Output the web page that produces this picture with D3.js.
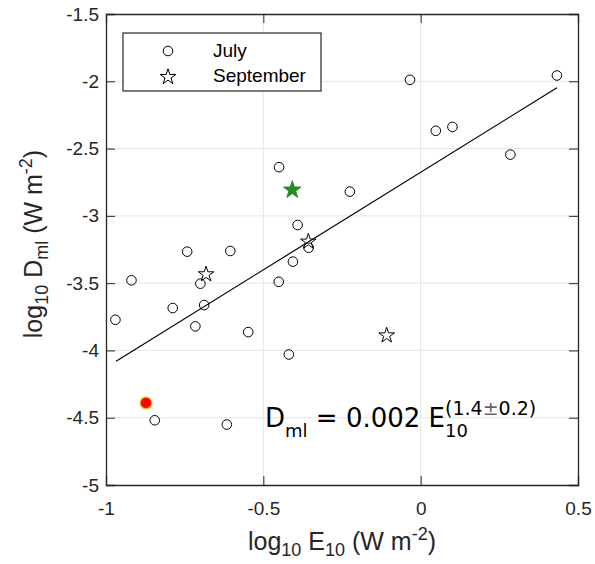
<!DOCTYPE html>
<html>
<head>
<meta charset="utf-8">
<script src="https://cdn.jsdelivr.net/npm/d3@7"></script>
<style>
  body { margin: 0; background: #fff; }
  svg { font-family: "Liberation Sans", Arial, sans-serif; }
</style>
</head>
<body>
<svg id="drawing_region"></svg>
<script>
// July observations: log10 E10, log10 Dml
const julyX = [-0.450, -0.225, -0.391, -0.356, -0.406, -0.742, -0.605, -0.700, -0.919, -0.451,
               -0.788, -0.688, -0.970, -0.716, -0.548, -0.419, -0.845, -0.616, -0.034, 0.048,
               0.101, 0.285, 0.433];
const julyY = [-2.638, -2.820, -3.068, -3.237, -3.340, -3.266, -3.261, -3.504, -3.479, -3.490,
               -3.685, -3.663, -3.772, -3.821, -3.864, -4.030, -4.519, -4.551, -1.989, -2.368,
               -2.339, -2.545, -1.957];
// September observations
const septX = [-0.682, -0.357, -0.108];
const septY = [-3.427, -3.184, -3.881];
// highlighted points
const greenStar = [-0.408, -2.800];
const redDot = [-0.873, -4.390];
// fit line endpoints
const fitX = [-0.968, 0.433];
const fitY = [-4.080, -2.048];

const xTicks = [-1, -0.5, 0, 0.5];
const yTicks = [-5, -4.5, -4, -3.5, -3, -2.5, -2, -1.5];
const legendLabels = ["July", "September"];

const width = 595, height = 564;
const margin = { top: 14, right: 17, bottom: 79, left: 106 };
const innerW = width - margin.left - margin.right;
const innerH = height - margin.top - margin.bottom;

const svg = d3.select('#drawing_region')
    .attr('width', width)
    .attr('height', height);

const chart = svg.append('g')
    .attr('transform', `translate(${margin.left}, ${margin.top})`);

const xscale = d3.scaleLinear().domain([-1, 0.5]).range([0, innerW]);
const yscale = d3.scaleLinear().domain([-5, -1.5]).range([innerH, 0]);

const axisColor = '#262626';
const fmt = d => String(d);   // plain hyphen, like the original

// grid
chart.append('g').selectAll('line')
    .data(xTicks.slice(1, -1))
    .enter().append('line')
    .attr('x1', d => xscale(d)).attr('x2', d => xscale(d))
    .attr('y1', 0).attr('y2', innerH)
    .attr('stroke', '#e6e6e6').attr('stroke-width', 1);
chart.append('g').selectAll('line')
    .data(yTicks.slice(1, -1))
    .enter().append('line')
    .attr('y1', d => yscale(d)).attr('y2', d => yscale(d))
    .attr('x1', 0).attr('x2', innerW)
    .attr('stroke', '#e6e6e6').attr('stroke-width', 1);

// axes with inward ticks
const xaxis = d3.axisBottom(xscale).tickValues(xTicks).tickSize(-9).tickPadding(17).tickFormat(fmt);
const yaxis = d3.axisLeft(yscale).tickValues(yTicks).tickSize(-9).tickPadding(7).tickFormat(fmt);
const xaxisTop = d3.axisTop(xscale).tickValues(xTicks).tickSize(-9).tickFormat('');
const yaxisRight = d3.axisRight(yscale).tickValues(yTicks).tickSize(-9).tickFormat('');

function styleAxis(g) {
    g.selectAll('path').attr('stroke', axisColor).attr('stroke-width', 1.3);
    g.selectAll('line').attr('stroke', axisColor);
    g.selectAll('text').attr('fill', axisColor).attr('font-size', '19px')
        .attr('font-family', '"Liberation Sans", Arial, sans-serif');
}

chart.append('g').attr('transform', `translate(0, ${innerH})`).call(xaxis).call(styleAxis);
chart.append('g').call(yaxis).call(styleAxis);
chart.append('g').call(xaxisTop).call(styleAxis);
chart.append('g').attr('transform', `translate(${innerW}, 0)`).call(yaxisRight).call(styleAxis);

// fit line
chart.append('line')
    .attr('x1', xscale(fitX[0])).attr('y1', yscale(fitY[0]))
    .attr('x2', xscale(fitX[1])).attr('y2', yscale(fitY[1]))
    .attr('stroke', '#000').attr('stroke-width', 1.2);

// July circles
const july = julyX.map((x, i) => ({ x: x, y: julyY[i] }));
chart.append('g').selectAll('circle')
    .data(july)
    .enter().append('circle')
    .attr('cx', d => xscale(d.x))
    .attr('cy', d => yscale(d.y))
    .attr('r', 4.8)
    .attr('fill', 'none')
    .attr('stroke', '#000')
    .attr('stroke-width', 1);

// September stars
const star = d3.symbol().type(d3.symbolStar).size(75);
const sept = septX.map((x, i) => ({ x: x, y: septY[i] }));
chart.append('g').selectAll('path')
    .data(sept)
    .enter().append('path')
    .attr('d', star)
    .attr('transform', d => `translate(${xscale(d.x)}, ${yscale(d.y) + 1})`)
    .attr('fill', 'none')
    .attr('stroke', '#000')
    .attr('stroke-width', 1);

// highlighted
chart.append('path')
    .attr('d', d3.symbol().type(d3.symbolStar).size(95))
    .attr('transform', `translate(${xscale(greenStar[0])}, ${yscale(greenStar[1]) + 1})`)
    .attr('fill', '#228b22')
    .attr('stroke', '#228b22');
chart.append('circle')
    .attr('cx', xscale(redDot[0])).attr('cy', yscale(redDot[1]))
    .attr('r', 5.8)
    .attr('fill', '#ff0000')
    .attr('stroke', '#f5b800')
    .attr('stroke-width', 1.2);

// legend
const legend = chart.append('g').attr('transform', 'translate(17, 19)');
legend.append('rect')
    .attr('width', 198).attr('height', 58)
    .attr('fill', '#fff').attr('stroke', axisColor).attr('stroke-width', 1.2);
legend.append('circle')
    .attr('cx', 45).attr('cy', 18).attr('r', 4.8)
    .attr('fill', 'none').attr('stroke', '#000');
legend.append('path')
    .attr('d', star)
    .attr('transform', 'translate(45, 44)')
    .attr('fill', 'none').attr('stroke', '#000');
legend.selectAll('text.lab')
    .data(legendLabels)
    .enter().append('text')
    .attr('class', 'lab')
    .attr('x', 90)
    .attr('y', (d, i) => 24 + i * 25)
    .attr('font-size', '19px')
    .attr('fill', '#000')
    .text(d => d);

// equation
const eq = chart.append('text')
    .attr('x', 159)
    .attr('y', 413)
    .attr('fill', '#000')
    .attr('font-family', '"DejaVu Sans", sans-serif')
    .attr('font-size', '26px');
eq.append('tspan').text('D');
eq.append('tspan').attr('font-size', '18px').attr('dy', 10).text('ml');
eq.append('tspan').attr('dy', -10).text(' = 0.002 E');
const sub = eq.append('tspan').attr('font-size', '18px').attr('dy', 10).text('10');
const supX = sub.node().getStartPositionOfChar(0).x;
const sup = chart.append('text')
    .attr('x', supX)
    .attr('y', 401)
    .attr('font-family', '"DejaVu Sans", sans-serif')
    .attr('font-size', '19px')
    .attr('fill', '#000');
sup.append('tspan').text('(1.4');
sup.append('tspan').attr('fill', '#666').text('±');
sup.append('tspan').text('0.2)');

// axis labels
const xl = svg.append('text')
    .attr('x', 342)
    .attr('y', 550)
    .attr('text-anchor', 'middle')
    .attr('font-size', '25px')
    .attr('fill', axisColor);
xl.append('tspan').text('log');
xl.append('tspan').attr('font-size', '18px').attr('dy', 6).text('10');
xl.append('tspan').attr('dy', -6).text(' E');
xl.append('tspan').attr('font-size', '18px').attr('dy', 6).text('10');
xl.append('tspan').attr('dy', -6).text(' (W m');
xl.append('tspan').attr('font-size', '18px').attr('dy', -10).text('-2');
xl.append('tspan').attr('dy', 10).text(')');

const yl = svg.append('text')
    .attr('transform', 'translate(42, 244) rotate(-90)')
    .attr('text-anchor', 'middle')
    .attr('font-size', '25px')
    .attr('fill', axisColor);
yl.append('tspan').text('log');
yl.append('tspan').attr('font-size', '18px').attr('dy', 6).text('10');
yl.append('tspan').attr('dy', -6).text(' D');
yl.append('tspan').attr('font-size', '18px').attr('dy', 6).text('ml');
yl.append('tspan').attr('dy', -6).text(' (W m');
yl.append('tspan').attr('font-size', '18px').attr('dy', -10).text('-2');
yl.append('tspan').attr('dy', 10).text(')');
</script>
</body>
</html>
